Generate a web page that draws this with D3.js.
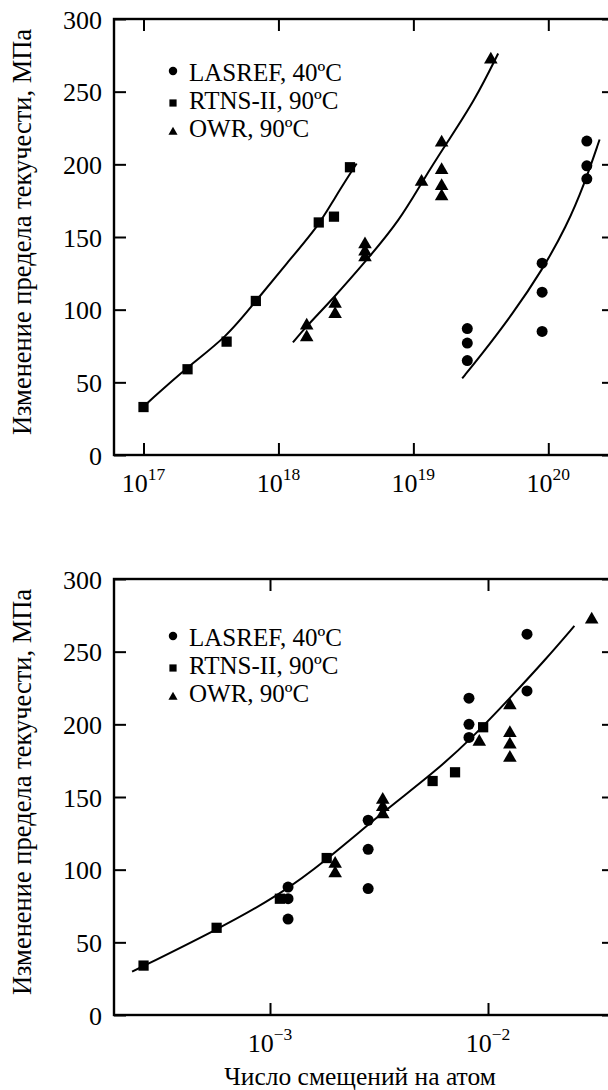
<!DOCTYPE html>
<html>
<head>
<meta charset="utf-8">
<script src="https://cdn.jsdelivr.net/npm/d3@7"></script>
<style>
  body { margin: 0; background: #fff; }
  svg text { font-family: "Liberation Serif", "DejaVu Serif", serif; fill: #000; }
</style>
</head>
<body>
<svg id="chart" width="608" height="1090"></svg>
<script>
// ticks
var stressTicks = [0, 50, 100, 150, 200, 250, 300];
var fluenceTicks = [1e17, 1e18, 1e19, 1e20];
var fluenceExp = ["17", "18", "19", "20"];
var dpaTicks = [1e-3, 1e-2];
var dpaExp = ["\u22123", "\u22122"];

var legendNames = ["LASREF, 40ºC", "RTNS-II, 90ºC", "OWR, 90ºC"];
var yTitle = "Изменение предела текучести, МПа";
var xTitle = "Число смещений на атом";

// top panel: fluence
var lasrefFluence = [2.51e19, 2.51e19, 2.51e19, 9.0e19, 9.0e19, 9.0e19, 1.93e20, 1.93e20, 1.93e20];
var lasrefFluenceStress = [87, 77, 65, 132, 112, 85, 216, 199, 190];
var rtnsFluence = [1e17, 2.12e17, 4.13e17, 6.8e17, 1.99e18, 2.58e18, 3.39e18];
var rtnsFluenceStress = [33, 59, 78, 106, 160, 164, 198];
var owrFluence = [1.62e18, 1.62e18, 2.63e18, 2.63e18, 4.38e18, 4.38e18, 4.38e18, 1.15e19, 1.62e19, 1.62e19, 1.62e19, 1.62e19, 3.75e19];
var owrFluenceStress = [89, 81, 104, 97, 145, 140, 136, 188, 215, 196, 185, 178, 272];

// fitted curves
var rtnsFitFluence = [1.06e17, 2.12e17, 4.13e17, 6.8e17, 1.15e18, 2.0e18, 2.55e18, 3.8e18];
var rtnsFitStress = [35.5, 60.7, 81, 106, 131.8, 158.2, 175.4, 200.6];
var owrFitFluence = [1.28e18, 1.6e18, 2.55e18, 4.5e18, 7.94e18, 1.18e19, 1.76e19, 2.86e19, 4.25e19];
var owrFitStress = [77.5, 88.2, 107.8, 134, 161.6, 189.1, 214.4, 244.2, 276.3];
var lasrefFitFluence = [2.3e19, 3.11e19, 5.48e19, 9.0e19, 1.36e20, 1.86e20, 2.4e20];
var lasrefFitStress = [52.7, 67.6, 97.4, 127.2, 157, 186.9, 217.1];

// bottom panel: displacements per atom
var lasrefDpa = [1.21e-3, 1.21e-3, 1.21e-3, 2.82e-3, 2.82e-3, 2.82e-3, 8.18e-3, 8.18e-3, 8.18e-3, 1.51e-2, 1.51e-2];
var lasrefDpaStress = [88, 80, 66, 134, 114, 87, 218, 200, 191, 223, 262];
var rtnsDpa = [2.63e-4, 5.69e-4, 1.11e-3, 1.82e-3, 5.57e-3, 7.06e-3, 9.5e-3];
var rtnsDpaStress = [34, 60, 80, 108, 161, 167, 198];
var owrDpa = [1.99e-3, 1.99e-3, 3.29e-3, 3.29e-3, 3.29e-3, 9.12e-3, 1.26e-2, 1.26e-2, 1.26e-2, 1.26e-2, 2.99e-2];
var owrDpaStress = [104, 97.5, 148, 143, 138, 188, 213, 194, 186, 177, 272];

var dpaFit = [2.33e-4, 5.69e-4, 1.11e-3, 1.82e-3, 3.31e-3, 5.61e-3, 8.57e-3, 1.26e-2, 1.86e-2, 2.49e-2];
var dpaFitStress = [29.8, 58.5, 82.6, 106.7, 139.9, 166.3, 191.5, 218, 245.5, 267.7];

var svg = d3.select("#chart");
var frameLeft = 114, frameRight = 614;
var serif = "'Liberation Serif', 'DejaVu Serif', serif";

var symbols = [d3.symbolCircle, d3.symbolSquare, d3.symbolTriangle];
var markSize = [95, 105, 80];
var legendSize = [56, 52, 36];
var legendDy = [-10, -6, -5];

function zip(a, b) {
  return a.map(function(v, i) { return [v, b[i]]; });
}

function panel(opts) {
  var x = d3.scaleLog().domain(opts.xDomain).range(opts.xRange);
  var y = d3.scaleLinear().domain([0, 300]).range([opts.bottom, opts.top]);
  var g = svg.append("g");

  // ticks (inward)
  g.append("g").attr("transform", "translate(" + frameLeft + ",0)")
    .call(d3.axisLeft(y).tickValues(stressTicks).tickSizeInner(-12).tickSizeOuter(0).tickPadding(12))
    .call(function(a) {
      a.attr("font-family", serif).attr("font-size", 26);
      a.select(".domain").remove();
      a.selectAll("line").attr("stroke-width", 2);
      a.selectAll("text").attr("dy", "0.35em");
    });
  g.append("g").attr("transform", "translate(" + frameRight + ",0)")
    .call(d3.axisRight(y).tickValues(stressTicks).tickSizeInner(-12).tickSizeOuter(0).tickFormat(""))
    .call(function(a) { a.select(".domain").remove(); a.selectAll("line").attr("stroke-width", 2); });
  g.append("g").attr("transform", "translate(0," + opts.bottom + ")")
    .call(d3.axisBottom(x).tickValues(opts.ticks).tickSizeInner(-12).tickSizeOuter(0).tickFormat(""))
    .call(function(a) { a.select(".domain").remove(); a.selectAll("line").attr("stroke-width", 2); });
  g.append("g").attr("transform", "translate(0," + opts.top + ")")
    .call(d3.axisTop(x).tickValues(opts.ticks).tickSizeInner(-12).tickSizeOuter(0).tickFormat(""))
    .call(function(a) { a.select(".domain").remove(); a.selectAll("line").attr("stroke-width", 2); });

  // frame
  g.append("rect")
    .attr("x", frameLeft).attr("y", opts.top)
    .attr("width", frameRight - frameLeft).attr("height", opts.bottom - opts.top)
    .attr("fill", "none").attr("stroke", "#000").attr("stroke-width", 2.4);

  // x tick labels with exponents
  var lab = g.selectAll(".xlab").data(opts.ticks).enter().append("text")
    .attr("class", "xlab")
    .attr("x", function(d) { return x(d); })
    .attr("y", opts.bottom + 37)
    .attr("text-anchor", "middle")
    .attr("font-family", serif)
    .attr("font-size", 26);
  lab.append("tspan").text("10");
  lab.append("tspan").attr("font-size", 17.5).attr("dy", -12)
    .text(function(d, i) { return opts.exps[i]; });

  // y title
  g.append("text")
    .attr("transform", "translate(31," + ((opts.top + opts.bottom) / 2 - 5) + ") rotate(-90)")
    .attr("text-anchor", "middle")
    .attr("font-family", serif)
    .attr("font-size", 26.5)
    .text(yTitle);

  // fitted curves
  var line = d3.line()
    .x(function(d) { return x(d[0]); })
    .y(function(d) { return y(d[1]); })
    .curve(d3.curveBasis);
  opts.fits.forEach(function(f) {
    g.append("path").datum(f)
      .attr("d", line)
      .attr("fill", "none").attr("stroke", "#000").attr("stroke-width", 2);
  });

  // markers
  opts.series.forEach(function(s, k) {
    g.selectAll(".m" + k).data(s).enter().append("path")
      .attr("class", "m" + k)
      .attr("transform", function(d) { return "translate(" + x(d[0]) + "," + y(d[1]) + ")"; })
      .attr("d", d3.symbol().type(symbols[k]).size(markSize[k]));
  });

  // legend
  var leg = g.selectAll(".leg").data(legendNames).enter().append("g")
    .attr("class", "leg")
    .attr("transform", function(d, i) { return "translate(173," + (opts.legendTop + i * 28) + ")"; });
  leg.append("path")
    .attr("transform", function(d, i) { return "translate(0," + legendDy[i] + ")"; })
    .attr("d", function(d, i) { return d3.symbol().type(symbols[i]).size(legendSize[i])(); });
  leg.append("text").attr("x", 16)
    .attr("font-family", serif).attr("font-size", 25)
    .text(function(d) { return d; });
}

panel({
  top: 19, bottom: 455,
  xDomain: [1e17, 1e20], xRange: [143.5, 548.3],
  ticks: fluenceTicks, exps: fluenceExp,
  legendTop: 81,
  series: [zip(lasrefFluence, lasrefFluenceStress), zip(rtnsFluence, rtnsFluenceStress), zip(owrFluence, owrFluenceStress)],
  fits: [zip(rtnsFitFluence, rtnsFitStress), zip(owrFitFluence, owrFitStress), zip(lasrefFitFluence, lasrefFitStress)]
});

panel({
  top: 579, bottom: 1015,
  xDomain: [1e-3, 1e-2], xRange: [270, 488],
  ticks: dpaTicks, exps: dpaExp,
  legendTop: 646,
  series: [zip(lasrefDpa, lasrefDpaStress), zip(rtnsDpa, rtnsDpaStress), zip(owrDpa, owrDpaStress)],
  fits: [zip(dpaFit, dpaFitStress)]
});

svg.append("text")
  .attr("x", 360).attr("y", 1085)
  .attr("text-anchor", "middle")
  .attr("font-family", serif)
  .attr("font-size", 25.5)
  .text(xTitle);
</script>
</body>
</html>
